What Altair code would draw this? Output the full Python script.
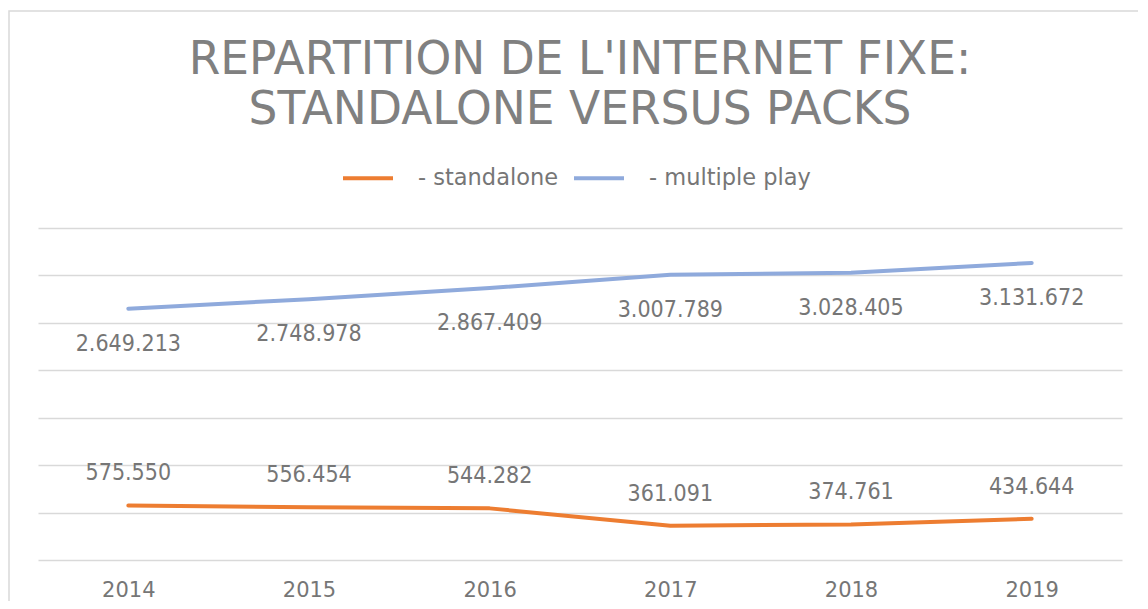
import altair as alt
import pandas as pd

years = ["2014", "2015", "2016", "2017", "2018", "2019"]
standalone = [575550, 556454, 544282, 361091, 374761, 434644]
multiple_play = [2649213, 2748978, 2867409, 3007789, 3028405, 3131672]
series_names = ["- standalone", "- multiple play"]
series_colors = ["#ED7D31", "#8FAADC"]
y_ticks = [0, 500000, 1000000, 1500000, 2000000, 2500000, 3000000, 3500000]


def fmt(v):
    return f"{v:,}".replace(",", ".")


rows = []
for name, vals in zip(series_names, [standalone, multiple_play]):
    for yr, v in zip(years, vals):
        rows.append({"year": yr, "value": v, "series": name, "label": fmt(v)})
df = pd.DataFrame(rows)

TXT = "#767676"
TITLE_C = "#808080"
FONT = "DejaVu Sans"
LFONT = "DejaVu Sans Condensed, DejaVu Sans"

x_enc = alt.X(
    "year:O",
    scale=alt.Scale(type="point", padding=0.5),
    axis=alt.Axis(
        title=None, domain=False, ticks=False, grid=False, labelAngle=0,
        labelFont=FONT, labelFontSize=21, labelColor=TXT, labelPadding=19,
    ),
)
y_enc = alt.Y(
    "value:Q",
    scale=alt.Scale(domain=[0, 3500000], nice=False),
    axis=alt.Axis(
        title=None, domain=False, ticks=False, labels=False, grid=True,
        values=y_ticks, gridColor="#D9D9D9", gridWidth=1.5,
    ),
)

base = alt.Chart(df).encode(x=x_enc, y=y_enc)

lines = base.mark_line(strokeWidth=4, strokeCap="round", strokeJoin="round").encode(
    color=alt.Color(
        "series:N",
        scale=alt.Scale(domain=series_names, range=series_colors),
        legend=alt.Legend(
            title=None, orient="none", legendX=303, legendY=-77,
            direction="horizontal", symbolType="stroke", symbolSize=2500,
            symbolStrokeWidth=4, labelFont=FONT, labelFontSize=22.5,
            labelColor=TXT, labelOffset=23, columnPadding=7, padding=0,
            labelLimit=400,
        ),
    ),
)

text_mp = base.transform_filter(alt.datum.series == "- multiple play").mark_text(
    dy=35, font=LFONT, fontSize=23, color=TXT
).encode(text="label:N")

text_sa = base.transform_filter(alt.datum.series == "- standalone").mark_text(
    dy=-32, font=LFONT, fontSize=23, color=TXT
).encode(text="label:N")

border = alt.Chart(pd.DataFrame({"k": [0]})).mark_rect(
    fill="transparent", stroke="#D9D9D9", strokeWidth=1.5
).encode(
    x=alt.value(-29), x2=alt.value(1130), y=alt.value(-217), y2=alt.value(420)
)

chart = alt.layer(border, lines, text_mp, text_sa).properties(
    width=1084,
    height=332,
    title=alt.TitleParams(
        text=["REPARTITION DE L'INTERNET FIXE:", "STANDALONE VERSUS PACKS"],
        font=FONT, fontSize=45.5, fontWeight="normal", color=TITLE_C,
        anchor="middle", lineHeight=50, offset=-123,
    ),
    autosize=alt.AutoSizeParams(type="none"),
    padding={"left": 30, "top": 220, "right": 16, "bottom": 41},
    background="white",
).configure_view(strokeWidth=0, stroke="transparent")

chart.save("out.html", embed_options={"renderer": "svg", "actions": False})
